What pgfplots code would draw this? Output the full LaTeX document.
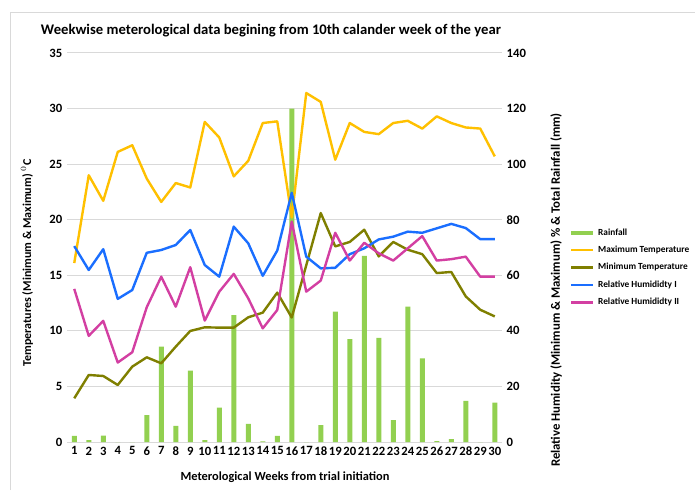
\documentclass[border=0pt]{standalone}
\usepackage{pgfplots}
\pgfplotsset{compat=1.18}
\usepackage{fontspec}
\setmainfont{Carlito}
\definecolor{rain}{HTML}{92D050}
\definecolor{tmax}{HTML}{FFC000}
\definecolor{tmin}{HTML}{7F7F00}
\definecolor{rhone}{HTML}{1A6EFF}
\definecolor{rhtwo}{HTML}{D33FA2}
\definecolor{gridc}{HTML}{D9D9D9}
\pgfplotsset{
  base/.style={
    scale only axis, width=326.25pt, height=291.75pt,
    at={(50.25pt,36pt)}, anchor=south west,
    xmin=0.5, xmax=30.5, ymin=0,
    major tick length=0pt,
    axis line style={draw=none},
    tick label style={font=\bfseries\fontsize{9.5}{11}\selectfont},
    /pgf/number format/assume math mode=true,
  },
  ln/.style={line width=1.8pt, line join=round, mark=none},
}
\begin{document}
\begin{tikzpicture}
\path[use as bounding box] (0,0) rectangle (521.25pt,367.5pt);
\draw[gridc, line width=0.75pt] (7.5pt,0) -- (7.5pt,357.75pt) -- (521.25pt,357.75pt);
% Axis 1: right scale, grid, rainfall bars, x tick labels
\begin{axis}[base, ymax=140, ytick={0,20,...,140},
  axis y line*=right, axis x line*=bottom,
  xtick={1,...,30},
  ymajorgrids, grid style={gridc, line width=0.75pt},
  ybar, bar width=3.75pt, bar shift=0pt]
\addplot[fill=rain, draw=none] coordinates {
(1,2.2) (2,0.7) (3,2.3) (4,0) (5,0) (6,9.7) (7,34.3) (8,5.8) (9,25.7) (10,0.7)
(11,12.4) (12,45.7) (13,6.5) (14,0.2) (15,2.2) (16,120) (17,0) (18,6.1) (19,46.9) (20,37.0)
(21,67.0) (22,37.5) (23,7.9) (24,48.7) (25,30.1) (26,0.3) (27,1.0) (28,14.8) (29,0) (30,14.2)};
\end{axis}
% Axis 2: left scale, temperatures
\begin{axis}[base, ymax=35, ytick={0,5,...,35},
  axis y line*=left, axis x line*=bottom, xtick=\empty]
\addplot[ln, tmax] coordinates {
(1,16.1) (2,24.0) (3,21.7) (4,26.1) (5,26.7) (6,23.7) (7,21.6) (8,23.3) (9,22.9) (10,28.8)
(11,27.4) (12,23.9) (13,25.3) (14,28.7) (15,28.85) (16,20.2) (17,31.4) (18,30.6) (19,25.4) (20,28.7)
(21,27.9) (22,27.7) (23,28.7) (24,28.9) (25,28.2) (26,29.3) (27,28.7) (28,28.3) (29,28.2) (30,25.7)};
\addplot[ln, tmin] coordinates {
(1,3.93) (2,6.03) (3,5.94) (4,5.13) (5,6.78) (6,7.62) (7,7.08) (8,8.58) (9,9.99) (10,10.32)
(11,10.29) (12,10.29) (13,11.22) (14,11.64) (15,13.44) (16,11.2) (17,15.9) (18,20.6) (19,17.6) (20,18.0)
(21,19.1) (22,16.7) (23,18.0) (24,17.3) (25,16.9) (26,15.2) (27,15.3) (28,13.1) (29,11.9) (30,11.3)};
\end{axis}
% Axis 3: right scale, relative humidity + legend
\begin{axis}[base, ymax=140, hide axis,
  legend style={at={(1.153,0.556)}, anchor=north west, draw=none, fill=none,
    font=\bfseries\fontsize{7}{8}\selectfont, row sep=2.6pt, inner sep=0pt},
  legend cell align=left,
  legend image code/.code={\draw[#1] (0pt,0pt) -- (16.5pt,0pt);}]
\addlegendimage{rain, line width=3.5pt}
\addlegendentry{Rainfall}
\addlegendimage{tmax, line width=1.8pt}
\addlegendentry{Maximum Temperature}
\addlegendimage{tmin, line width=1.8pt}
\addlegendentry{Minimum Temperature}
\addplot[ln, rhone] coordinates {
(1,70.5) (2,61.9) (3,69.4) (4,51.5) (5,54.7) (6,68.1) (7,69.1) (8,70.9) (9,76.3) (10,63.7)
(11,59.5) (12,77.5) (13,71.5) (14,59.8) (15,68.9) (16,89.7) (17,66.7) (18,62.5) (19,62.7) (20,67.6)
(21,69.7) (22,72.9) (23,73.9) (24,75.7) (25,75.3) (26,76.9) (27,78.5) (28,77.0) (29,73.0) (30,73.0)};
\addlegendentry{Relative Humididty I}
\addplot[ln, rhtwo] coordinates {
(1,55.1) (2,38.2) (3,43.6) (4,28.6) (5,32.3) (6,48.5) (7,59.5) (8,48.7) (9,62.9) (10,43.7)
(11,54.1) (12,60.5) (13,51.7) (14,40.9) (15,47.5) (16,79.3) (17,54.1) (18,58.1) (19,75.3) (20,65.3)
(21,71.7) (22,67.9) (23,65.3) (24,69.7) (25,74.1) (26,65.3) (27,65.8) (28,66.7) (29,59.5) (30,59.5)};
\addlegendentry{Relative Humididty II}
\end{axis}
\node[font=\bfseries\fontsize{11}{13}\selectfont] at (203.25pt,344.25pt)
  {Weekwise meterological data begining from 10th calander week of the year};
\node[rotate=90, font=\bfseries\fontsize{9}{11}\selectfont] at (20.25pt,170.25pt)
  {Temperatures (Minimum \& Maximum) $^{0}$C};
\node[rotate=90, font=\bfseries\fontsize{9.6}{11}\selectfont] at (417pt,150pt)
  {Relative Humidity (Minimum \& Maximum) \% \& Total Rainfall (mm)};
\node[font=\bfseries\fontsize{9.3}{11}\selectfont] at (213.75pt,9.75pt)
  {Meterological Weeks from trial initiation};
\end{tikzpicture}
\end{document}
